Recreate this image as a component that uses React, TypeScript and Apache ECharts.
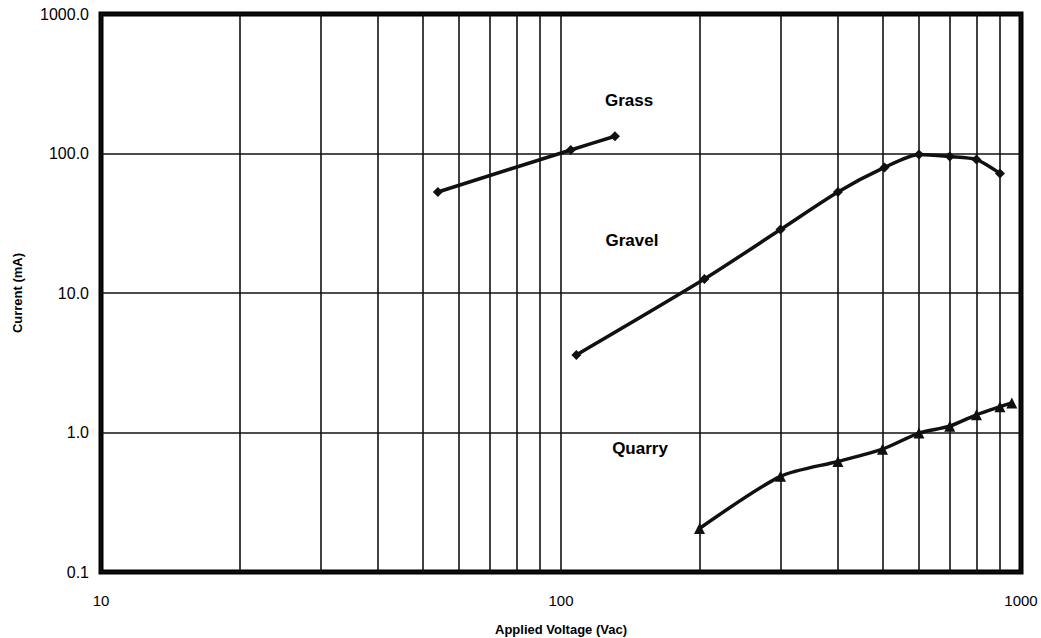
import React, { useEffect, useRef } from "react";
import * as echarts from "echarts";

const grassData: [number, number][] = [
  [54, 53],
  [105, 106],
  [131, 133],
];
const gravelData: [number, number][] = [
  [108, 3.6],
  [205, 12.6],
  [300, 28.5],
  [400, 53],
  [505, 79.5],
  [600, 98.5],
  [700, 95],
  [800, 90.5],
  [900, 72],
];
const quarryData: [number, number][] = [
  [200, 0.205],
  [300, 0.485],
  [400, 0.62],
  [500, 0.76],
  [600, 0.99],
  [700, 1.11],
  [800, 1.34],
  [900, 1.53],
  [955, 1.63],
];
const minorGridX = [20, 30, 40, 50, 60, 70, 80, 90, 200, 300, 400, 500, 600, 700, 800, 900];
const seriesLabels = [
  { text: "Grass", x: 629, y: 100 },
  { text: "Gravel", x: 632, y: 240 },
  { text: "Quarry", x: 640, y: 448 },
];

const FONT = "'Liberation Sans', Arial, sans-serif";

export default function App() {
  const ref = useRef<HTMLDivElement>(null);
  useEffect(() => {
    if (!ref.current) return;
    const chart = echarts.init(ref.current, null, { renderer: "svg" });
    const lineCommon = {
      type: "line",
      smooth: 0.25,
      lineStyle: { color: "#111", width: 3.5 },
      itemStyle: { color: "#111" },
      silent: true,
    };
    chart.setOption({
      animation: false,
      backgroundColor: "#fff",
      grid: {
        left: 101,
        right: 20,
        top: 14,
        bottom: 66,
        outerBoundsMode: "none",
        containLabel: false,
        show: true,
        borderColor: "#000",
        borderWidth: 5,
        backgroundColor: "transparent",
      },
      xAxis: {
        type: "log",
        logBase: 10,
        min: 10,
        max: 1000,
        name: "Applied Voltage (Vac)",
        nameLocation: "middle",
        nameGap: 51,
        nameTextStyle: { fontFamily: FONT, fontWeight: "bold", fontSize: 13, color: "#000" },
        axisLine: { show: false },
        axisTick: { show: false },
        axisLabel: {
          fontFamily: FONT,
          fontSize: 15,
          color: "#000",
          margin: 21,
          formatter: (v: number) => String(Math.round(v)),
        },
        splitLine: { show: true, lineStyle: { color: "#111", width: 1.6 } },
      },
      yAxis: {
        type: "log",
        logBase: 10,
        min: 0.1,
        max: 1000,
        name: "Current (mA)",
        nameLocation: "middle",
        nameRotate: 90,
        nameGap: 77,
        nameTextStyle: { fontFamily: FONT, fontWeight: "bold", fontSize: 13, color: "#000" },
        axisLine: { show: false },
        axisTick: { show: false },
        axisLabel: {
          fontFamily: FONT,
          fontSize: 16,
          color: "#000",
          margin: 12,
          formatter: (v: number) => Number(v).toFixed(1),
        },
        splitLine: { show: true, lineStyle: { color: "#111", width: 1.6 } },
      },
      graphic: seriesLabels.map((l) => ({
        type: "text",
        x: l.x,
        y: l.y,
        style: {
          text: l.text,
          fontFamily: FONT,
          fontWeight: "bold",
          fontSize: 17,
          fill: "#000",
          textAlign: "center",
          textVerticalAlign: "middle",
        },
        z: 10,
      })),
      series: [
        {
          ...lineCommon,
          name: "Grass",
          data: grassData,
          symbol: "diamond",
          symbolSize: 10,
          markLine: {
            silent: true,
            symbol: "none",
            label: { show: false },
            lineStyle: { color: "#111", width: 1.6, type: "solid" },
            data: minorGridX.map((v) => ({ xAxis: v })),
          },
        },
        {
          ...lineCommon,
          name: "Gravel",
          data: gravelData,
          symbol: "diamond",
          symbolSize: 10,
        },
        {
          ...lineCommon,
          name: "Quarry",
          data: quarryData,
          symbol: "triangle",
          symbolSize: 11,
        },
      ],
    });
    return () => chart.dispose();
  }, []);
  return (
    <div
      ref={ref}
      style={{ position: "fixed", left: 0, top: 0, width: 1041, height: 638, background: "#fff" }}
    />
  );
}
